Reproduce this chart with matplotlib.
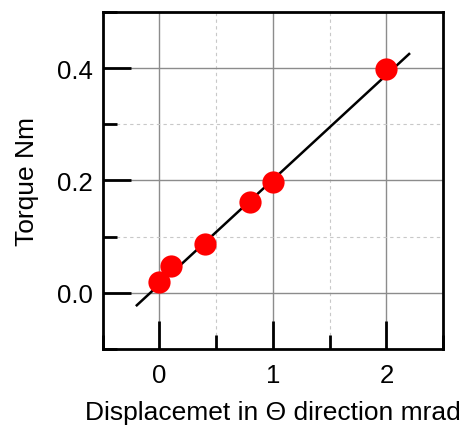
import matplotlib
matplotlib.use('Agg')
import matplotlib.pyplot as plt
from matplotlib.ticker import MultipleLocator

plt.rcParams['font.family'] = ['Liberation Sans', 'DejaVu Sans']

# measured points
disp = [0.0, 0.1, 0.4, 0.8, 1.0, 2.0]
torque = [0.020, 0.047, 0.087, 0.161, 0.198, 0.398]

# fitted line end points
fit_x = [-0.2, 2.2]
fit_y = [-0.022, 0.425]

fig = plt.figure(figsize=(4.65, 4.27), dpi=100)
ax = fig.add_axes([0.221, 0.180, 0.732, 0.790])

ax.plot(fit_x, fit_y, color='black', lw=1.8, zorder=3)
ax.plot(disp, torque, 'o', color='#ff0000', markersize=16, markeredgewidth=0, zorder=4)

ax.set_xlim(-0.5, 2.5)
ax.set_ylim(-0.1, 0.5)
ax.xaxis.set_major_locator(MultipleLocator(1))
ax.xaxis.set_minor_locator(MultipleLocator(0.5))
ax.yaxis.set_major_locator(MultipleLocator(0.2))
ax.yaxis.set_minor_locator(MultipleLocator(0.1))
ax.yaxis.set_major_formatter(matplotlib.ticker.FormatStrFormatter('%.1f'))

ax.grid(which='major', color='#8c8c8c', lw=1.0, ls='-')
ax.grid(which='minor', color='#c8c8c8', lw=0.8, ls=(0, (3, 3)))
ax.set_axisbelow(True)

for s in ax.spines.values():
    s.set_linewidth(2.0)
    s.set_color('black')

ax.tick_params(axis='both', which='major', direction='in', length=20, width=2,
               labelsize=18.5, top=False, right=False)
ax.tick_params(axis='both', which='minor', direction='in', length=10, width=2,
               top=False, right=False)
ax.tick_params(axis='x', which='major', pad=10)
ax.tick_params(axis='y', which='major', pad=7)

ax.set_xlabel('Displacemet in \u0398 direction mrad', fontsize=19)
ax.set_ylabel('Torque Nm', fontsize=19)
ax.xaxis.set_label_coords(0.50, -0.152)
ax.yaxis.set_label_coords(-0.187, 0.5)

fig.savefig('out.png', dpi=100)
